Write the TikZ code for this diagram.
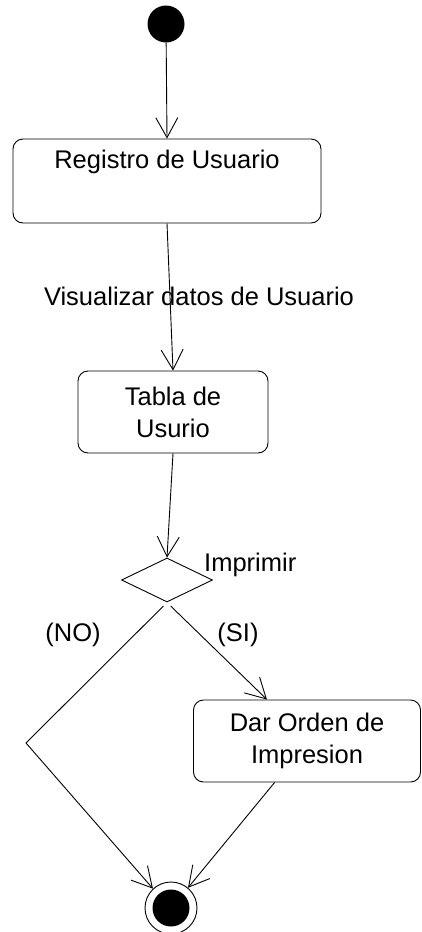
\documentclass[tikz,border=0pt]{standalone}
\usepackage{fontspec}
\setmainfont{Liberation Sans}
\usetikzlibrary{arrows.meta,positioning,shapes.geometric}
\tikzset{
  actbox/.style={draw=black, line width=0.9pt, rounded corners=10pt, align=center,
    inner sep=4pt, font=\fontsize{25.5}{32}\selectfont},
  startdot/.style={circle, fill=black, inner sep=0pt, minimum size=37pt},
  endring/.style={circle, draw=black, line width=0.9pt, inner sep=0pt, minimum size=52pt},
  decbox/.style={diamond, draw=black, line width=0.9pt, inner sep=0pt,
    minimum width=91pt, minimum height=44pt},
  lbl/.style={inner sep=0pt, font=\fontsize{25.5}{32}\selectfont},
  arr/.style={-{Straight Barb[length=20pt,width=22pt,line width=0.9pt]}, line width=0.9pt},
  flow/.style={line width=0.9pt}
}
\begin{document}
\begin{tikzpicture}[x=1pt, y=-1pt]
  \useasboundingbox (0,0) rectangle (421,932);

  \node[startdot] (start) at (166,24) {};
  \node[actbox, minimum width=308pt, minimum height=84pt, text depth=44pt] (reg) at (167,181) {Registro de Usuario};
  \node[actbox, minimum width=190pt, minimum height=82pt] (tab) at (173,412) {Tabla de\\Usurio};
  \node[decbox] (dec) at (167,580) {};
  \node[actbox, minimum width=227pt, minimum height=82pt] (dar) at (307,741) {Dar Orden de\\Impresion};
  \node[endring] (fin) at (171,908) {};
  \node[startdot] (findot) at (fin) {};

  % etiquetas
  \node[lbl] (viz) at (199,296) {Visualizar datos de Usuario};
  \node[lbl, anchor=west] (impr) at (204,565) {Imprimir};
  \node[lbl] (no) at (73,635) {(NO)};
  \node[lbl] (si) at (238,635) {(SI)};

  \coordinate (nocorner) at (26,743);

  \draw[arr] (start) -- (reg.north);
  \draw[arr] (reg.south) -- (tab.north);
  \draw[arr] (tab.south) -- (dec.north);
  \draw[arr, shorten <=5pt] (dec.south) -- (dar.134);
  \draw[arr, shorten <=5pt] (dec.south) -- (nocorner) -- (fin.133);
  \draw[arr] (dar.232) -- (fin.50);
\end{tikzpicture}
\end{document}
